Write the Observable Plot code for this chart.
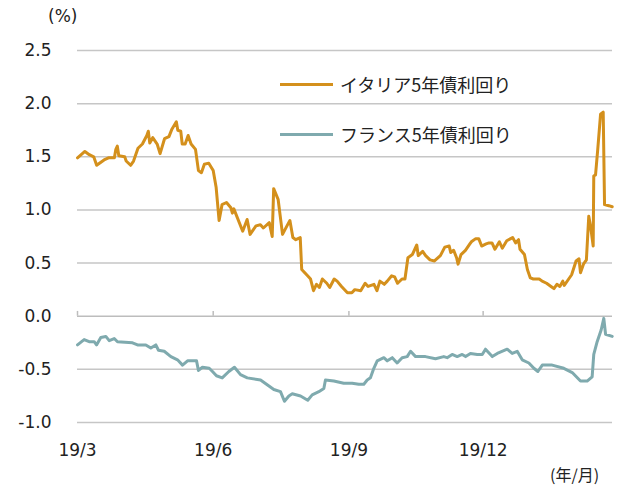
<!DOCTYPE html>
<html><head><meta charset="utf-8">
<script src="https://cdn.jsdelivr.net/npm/d3@7"></script>
<script src="https://cdn.jsdelivr.net/npm/@observablehq/plot@0.6"></script>
<style>
body{margin:0;background:#fff;}
#wrap{position:relative;width:625px;height:488px;font-family:'DejaVu Sans','Noto Sans CJK JP',sans-serif;}
.lab{position:absolute;font-size:17px;line-height:20px;color:#222;white-space:nowrap;}
.leg{position:absolute;left:280px;height:24px;display:flex;align-items:center;font-family:'Noto Sans CJK JP',sans-serif;font-size:18px;color:#222;white-space:nowrap;}
.sw{width:53px;height:3px;margin-right:7px;}
</style></head><body>
<div id="wrap"></div>
<script>
// day offsets from 2019-03-01 and yields (%)
const italyDays = [0,5,8,11,13,18,21,25,26,27,28,32,33,36,38,41,44,47,48,49,51,54,56,59,62,64,67,68,70,71,73,75,77,80,82,84,86,89,92,94,96,98,101,104,105,106,112,115,117,121,124,126,130,132,133,136,138,139,142,144,146,148,151,152,156,158,160,162,164,166,169,171,174,176,179,183,186,188,192,195,197,201,203,205,208,210,213,215,217,220,222,224,227,230,231,234,236,239,242,246,249,252,253,255,257,258,260,263,266,267,270,272,274,277,279,281,283,286,288,291,295,297,299,300,303,305,307,309,313,315,318,321,323,325,327,329,330,333,335,338,340,341,343,345,346.6,347.8,349.6,350.0,351.2,352.7,354.6,356.4,357.3,360.2,362.5];
const italyYield = [1.49,1.55,1.52,1.50,1.42,1.47,1.49,1.49,1.57,1.60,1.51,1.50,1.46,1.42,1.46,1.58,1.62,1.70,1.74,1.63,1.68,1.62,1.53,1.67,1.69,1.76,1.83,1.75,1.74,1.62,1.62,1.70,1.62,1.57,1.37,1.35,1.43,1.44,1.37,1.21,0.90,1.05,1.07,1.02,0.97,1.01,0.80,0.91,0.77,0.85,0.86,0.83,0.88,0.75,1.20,1.10,0.88,0.77,0.85,0.90,0.74,0.72,0.74,0.44,0.38,0.35,0.24,0.30,0.27,0.35,0.31,0.27,0.35,0.33,0.28,0.22,0.22,0.25,0.24,0.31,0.28,0.30,0.24,0.33,0.30,0.33,0.38,0.37,0.31,0.35,0.35,0.55,0.58,0.67,0.57,0.61,0.57,0.53,0.52,0.57,0.65,0.66,0.60,0.62,0.55,0.49,0.58,0.62,0.68,0.70,0.73,0.73,0.66,0.68,0.69,0.69,0.63,0.70,0.64,0.71,0.74,0.69,0.72,0.63,0.58,0.44,0.36,0.35,0.35,0.33,0.31,0.28,0.26,0.30,0.28,0.33,0.29,0.35,0.39,0.52,0.54,0.41,0.49,0.53,0.94,0.85,0.66,1.32,1.33,1.57,1.90,1.92,1.05,1.04,1.03];
const franceDays = [0,4.5,7.9,11.3,12.9,15.8,19.2,21.5,24.9,27.1,37.3,40.7,46.3,49.7,53.1,54.9,58.8,63.3,67.8,71.2,74.6,78,80.7,82,84.7,89.3,91.5,94.2,98.1,102.6,106.4,110.5,115.1,124.1,133.1,137.6,140.3,143.3,145.6,151.2,156.1,159.1,163.6,167,168.1,173.8,180.5,186.2,190.7,194.1,196.4,198.6,200.9,203.2,207.7,210,213.4,216.7,220.1,223.5,225.8,229.2,235.9,242.7,248.3,250.6,254,257.4,260.8,263.1,266.4,271,274.4,276.6,281.2,284.6,291.3,294.7,298.1,301.5,306,309.4,312.1,315.1,321.8,329.7,335.4,341,345.5,348.9,350,352.3,355,356.8,358,362.5];
const franceYield = [-0.27,-0.22,-0.24,-0.24,-0.27,-0.20,-0.19,-0.23,-0.21,-0.24,-0.25,-0.27,-0.27,-0.30,-0.27,-0.32,-0.33,-0.38,-0.41,-0.46,-0.42,-0.42,-0.42,-0.51,-0.48,-0.49,-0.52,-0.56,-0.58,-0.52,-0.48,-0.55,-0.58,-0.60,-0.69,-0.71,-0.80,-0.75,-0.73,-0.75,-0.79,-0.74,-0.71,-0.68,-0.60,-0.61,-0.63,-0.63,-0.64,-0.64,-0.60,-0.58,-0.49,-0.42,-0.39,-0.42,-0.39,-0.44,-0.39,-0.38,-0.33,-0.38,-0.38,-0.40,-0.38,-0.39,-0.36,-0.38,-0.36,-0.38,-0.35,-0.36,-0.36,-0.31,-0.38,-0.35,-0.31,-0.35,-0.33,-0.41,-0.44,-0.49,-0.52,-0.46,-0.46,-0.49,-0.53,-0.61,-0.61,-0.57,-0.36,-0.24,-0.13,-0.02,-0.17,-0.19,-0.20];
const yTicks = [-1.0,-0.5,0.0,0.5,1.0,1.5,2.0,2.5];
const xTickDates = ["2019-03-01","2019-06-01","2019-09-01","2019-12-01"];
const xTickLabels = ["19/3","19/6","19/9","19/12"];
const seriesNames = ["イタリア5年債利回り","フランス5年債利回り"];
const seriesColors = ["#D4901C","#7FAAAE"];

const start = Date.UTC(2019,2,1);
const toDate = d => new Date(start + d*864e5);
const italy = italyDays.map((d,i)=>({date:toDate(d), v:italyYield[i]}));
const france = franceDays.map((d,i)=>({date:toDate(d), v:franceYield[i]}));
const monthTicks = xTickDates.map(s=>new Date(s+"T00:00:00Z"));

const plot = Plot.plot({
  width:625, height:488, marginLeft:77, marginRight:13, marginTop:50, marginBottom:66,
  style:{fontFamily:"'DejaVu Sans', sans-serif", fontSize:"17px", color:"#222", background:"#fff", overflow:"visible"},
  x:{type:"utc", domain:[toDate(0), toDate(362.7)]},
  y:{domain:[-1,2.5]},
  marks:[
    Plot.gridY(yTicks.filter(d=>d!==0), {stroke:"#c6c6c6", strokeOpacity:1, strokeWidth:1.5}),
    Plot.ruleY([0], {stroke:"#bdbdbd", strokeWidth:1.5}),
    Plot.ruleX(monthTicks, {x:d=>d, y1:0, y2:0.045, stroke:"#bdbdbd", strokeWidth:1.5}),
    Plot.axisY({ticks:yTicks, tickFormat:d=>d.toFixed(1), tickSize:0, tickPadding:26, label:null}),
    Plot.axisX({ticks:monthTicks, tickFormat:d=>xTickLabels[monthTicks.findIndex(m=>+m===+d)], tickSize:0, tickPadding:21, label:null}),
    Plot.line(italy, {x:"date", y:"v", stroke:seriesColors[0], strokeWidth:3}),
    Plot.line(france, {x:"date", y:"v", stroke:seriesColors[1], strokeWidth:3})
  ]
});
const wrap = document.getElementById("wrap");
wrap.appendChild(plot);

function addLabel(text, left, top, extra){
  const el = document.createElement("div");
  el.className = "lab"; el.textContent = text;
  el.style.left = left+"px"; el.style.top = top+"px";
  if (extra) Object.assign(el.style, extra);
  wrap.appendChild(el);
}
addLabel("(%)", 48, 6);
addLabel("(年/月)", 550, 464, {fontFamily:"'Noto Sans CJK JP', sans-serif", fontSize:"16px"});

[72,122].forEach((top,i)=>{
  const l = document.createElement("div");
  l.className="leg"; l.style.top = top+"px";
  l.innerHTML = `<span class="sw" style="background:${seriesColors[i]}"></span><span>${seriesNames[i]}</span>`;
  wrap.appendChild(l);
});
</script>
</body></html>
